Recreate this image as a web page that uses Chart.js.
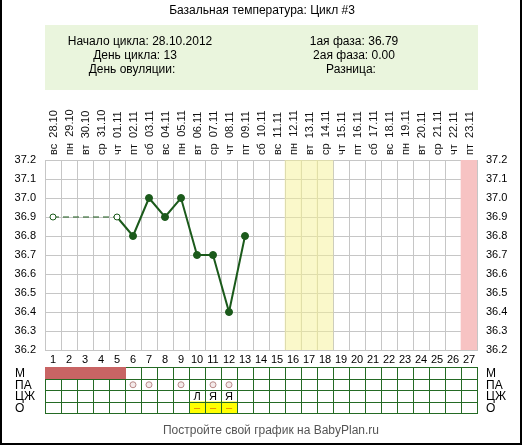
<!DOCTYPE html>
<html><head><meta charset="utf-8">
<script src="https://cdn.jsdelivr.net/npm/chart.js@4/dist/chart.umd.min.js"></script>
<style>html,body{margin:0;padding:0;background:#fff}canvas{display:block}</style>
</head><body>
<canvas id="c" width="522" height="445"></canvas>
<script>
// ---- data ----
const title = 'Базальная температура: Цикл #3';
const infoLeft = ['Начало цикла: 28.10.2012', 'День цикла: 13', 'День овуляции:'];
const infoRight = ['1ая фаза: 36.79', '2ая фаза: 0.00', 'Разница:'];
const footer = 'Постройте свой график на BabyPlan.ru';

const dayNumbers = ['1','2','3','4','5','6','7','8','9','10','11','12','13','14','15','16','17','18','19','20','21','22','23','24','25','26','27'];
const weekdays = ['вс','пн','вт','ср','чт','пт','сб','вс','пн','вт','ср','чт','пт','сб','вс','пн','вт','ср','чт','пт','сб','вс','пн','вт','ср','чт','пт'];
const dates = ['28.10','29.10','30.10','31.10','01.11','02.11','03.11','04.11','05.11','06.11','07.11','08.11','09.11','10.11','11.11','12.11','13.11','14.11','15.11','16.11','17.11','18.11','19.11','20.11','21.11','22.11','23.11'];
const temperatures = [36.9, null, null, null, 36.9, 36.8, 37.0, 36.9, 37.0, 36.7, 36.7, 36.4, 36.8, null, null, null, null, null, null, null, null, null, null, null, null, null, null];
const openMarkerDays = [1, 5];
const fertileDays = [16, 17, 18];
const nextPeriodDays = [27];
const yTicks = [36.2, 36.3, 36.4, 36.5, 36.6, 36.7, 36.8, 36.9, 37.0, 37.1, 37.2];

const tableRows = ['М', 'ПА', 'ЦЖ', 'О'];
const mensesDays = [1, 2, 3, 4, 5];
const paDays = [6, 7, 9, 11, 12];
const mucusDays = [10, 11, 12];
const mucusMarks = ['Л', 'Я', 'Я'];
const ovTestDays = [10, 11, 12];
const ovTestMarks = ['–', '–', '–'];

// ---- styles ----
const FONT = '"Liberation Sans", Arial, sans-serif';
const GREEN = '#1b5a1b';
const GRID = '#c6c6c6';
const TABLE_LINE = '#246a24';

const isSkip = c => c.p0.skip || c.p1.skip;

const decor = {
  id: 'decor',
  beforeDraw(chart) {
    const ctx = chart.ctx;
    ctx.save();
    ctx.fillStyle = '#fff';
    ctx.fillRect(0, 0, chart.width, chart.height);
    // header
    ctx.fillStyle = '#000';
    ctx.font = '12px ' + FONT;
    ctx.textAlign = 'center';
    ctx.textBaseline = 'middle';
    ctx.fillText(title, 262, 11);
    ctx.fillStyle = '#eaf5dd';
    ctx.fillRect(45, 25, 433, 65);
    ctx.fillStyle = '#000';
    const ys = [42, 56, 70];
    const lc = [140, 135, 132];
    const rc = [354, 354, 351];
    infoLeft.forEach((t, i) => ctx.fillText(t, lc[i], ys[i]));
    infoRight.forEach((t, i) => ctx.fillText(t, rc[i], ys[i]));
    ctx.restore();
  },
  afterDraw(chart) {
    const ctx = chart.ctx;
    const x = chart.scales.x;
    const half = (x.getPixelForValue(1) - x.getPixelForValue(0)) / 2;
    ctx.save();
    // top date labels
    ctx.fillStyle = '#111';
    ctx.font = '11px ' + FONT;
    ctx.textAlign = 'left';
    ctx.textBaseline = 'middle';
    dates.forEach((d, i) => {
      ctx.save();
      ctx.translate(Math.round(x.getPixelForValue(i)) + 0.5, 155);
      ctx.rotate(-Math.PI / 2);
      ctx.fillText(weekdays[i] + '  ' + d, 0, 0);
      ctx.restore();
    });
    // table
    const top = 367, rh = 11.5;
    const left = x.getPixelForValue(0) - half;
    const right = x.getPixelForValue(dayNumbers.length - 1) + half;
    const rowY = r => top + r * rh;
    // O row yellow cells
    ctx.fillStyle = '#ffff00';
    ovTestDays.forEach(d => {
      const cx = x.getPixelForValue(d - 1);
      ctx.fillRect(cx - half, rowY(3), half * 2, rh);
    });
    // lines
    ctx.strokeStyle = TABLE_LINE;
    ctx.lineWidth = 1;
    ctx.beginPath();
    for (let r = 0; r <= tableRows.length; r++) {
      const y = Math.round(rowY(r)) + 0.5;
      ctx.moveTo(left, y); ctx.lineTo(right + 1, y);
    }
    for (let i = 0; i <= dayNumbers.length; i++) {
      const xx = Math.round(x.getPixelForValue(0) - half + i * half * 2) + 0.5;
      ctx.moveTo(xx, Math.round(rowY(0)) + 0.5); ctx.lineTo(xx, Math.round(rowY(4)) + 0.5);
    }
    ctx.stroke();
    // M row menses
    ctx.fillStyle = '#c86464';
    {
      const a = x.getPixelForValue(mensesDays[0] - 1) - half;
      const b = x.getPixelForValue(mensesDays[mensesDays.length - 1] - 1) + half;
      ctx.fillRect(Math.round(a), Math.round(rowY(0)), Math.round(b - a) + 1, Math.round(rh));
    }
    // PA circles
    ctx.strokeStyle = '#b98a8a';
    ctx.fillStyle = '#f4eaea';
    paDays.forEach(d => {
      ctx.beginPath();
      ctx.arc(x.getPixelForValue(d - 1), rowY(1) + rh / 2 + 0.5, 3, 0, Math.PI * 2);
      ctx.fill(); ctx.stroke();
    });
    // mucus letters
    ctx.fillStyle = '#000';
    ctx.font = '11px ' + FONT;
    ctx.textAlign = 'center';
    ctx.textBaseline = 'middle';
    mucusDays.forEach((d, i) => ctx.fillText(mucusMarks[i], x.getPixelForValue(d - 1), rowY(2) + rh / 2 + 1));
    // ov test
    ctx.fillStyle = '#e07800';
    ovTestDays.forEach((d, i) => ctx.fillText(ovTestMarks[i], x.getPixelForValue(d - 1), rowY(3) + rh / 2 + 1));
    // row labels
    ctx.fillStyle = '#000';
    ctx.font = '12px ' + FONT;
    ctx.textAlign = 'left';
    tableRows.forEach((t, r) => {
      ctx.fillText(t, 15, rowY(r) + rh / 2 + 1);
      ctx.fillText(t, 486, rowY(r) + rh / 2 + 1);
    });
    // footer
    ctx.fillStyle = '#555';
    ctx.textAlign = 'center';
    ctx.fillText(footer, 271, 431);
    // outer border
    ctx.fillStyle = '#000';
    ctx.fillRect(0, 0, 2, chart.height);
    ctx.fillRect(chart.width - 2, 0, 2, chart.height);
    ctx.fillRect(0, chart.height - 2, chart.width, 2);
    ctx.restore();
  }
};

const yAxis = (pos) => ({
  position: pos,
  min: 36.2, max: 37.2,
  afterBuildTicks: s => { s.ticks = yTicks.map(v => ({ value: v })); },
  afterFit: s => { s.width = 45; },
  grid: { display: pos === 'left', color: GRID, drawTicks: false },
  border: { display: true, color: GRID },
  ticks: { padding: 9, color: '#000', font: { family: FONT, size: 11 }, callback: v => Number(v).toFixed(1) }
});

new Chart(document.getElementById('c'), {
  type: 'line',
  data: {
    labels: dayNumbers,
    datasets: [
      {
        type: 'line',
        data: temperatures,
        order: 0,
        borderColor: GREEN,
        borderWidth: 2,
        spanGaps: true,
        tension: 0,
        pointRadius: temperatures.map((v, i) => v == null ? 0 : (openMarkerDays.includes(i + 1) ? 3 : 3.5)),
        pointBackgroundColor: temperatures.map((v, i) => openMarkerDays.includes(i + 1) ? '#fff' : GREEN),
        pointBorderColor: GREEN,
        pointBorderWidth: 1,
        segment: {
          borderDash: c => isSkip(c) ? [6, 4] : undefined,
          borderWidth: c => isSkip(c) ? 1 : undefined
        }
      },
      {
        type: 'bar',
        order: 1,
        grouped: false,
        data: dayNumbers.map((d, i) => fertileDays.includes(i + 1) ? [36.2, 37.2] : null),
        backgroundColor: 'rgba(246,242,150,0.5)',
        borderWidth: 0,
        barPercentage: 1,
        categoryPercentage: 1
      },
      {
        type: 'bar',
        order: 2,
        grouped: false,
        data: dayNumbers.map((d, i) => nextPeriodDays.includes(i + 1) ? [36.2, 37.2] : null),
        backgroundColor: '#f7c3c3',
        borderWidth: 0,
        barPercentage: 1,
        categoryPercentage: 1
      }
    ]
  },
  options: {
    responsive: false,
    animation: false,
    devicePixelRatio: 1,
    layout: { padding: { top: 160, bottom: 75, left: 0, right: 0 } },
    plugins: { legend: { display: false }, tooltip: { enabled: false } },
    scales: {
      x: {
        type: 'category',
        offset: true,
        afterFit: s => { s.height = 20; },
        grid: { offset: true, color: GRID, drawTicks: false },
        border: { display: true, color: GRID },
        ticks: { padding: 3, autoSkip: false, maxRotation: 0, color: '#000', font: { family: FONT, size: 11 } }
      },
      y: yAxis('left'),
      y2: yAxis('right')
    }
  },
  plugins: [decor]
});
</script>
</body></html>
